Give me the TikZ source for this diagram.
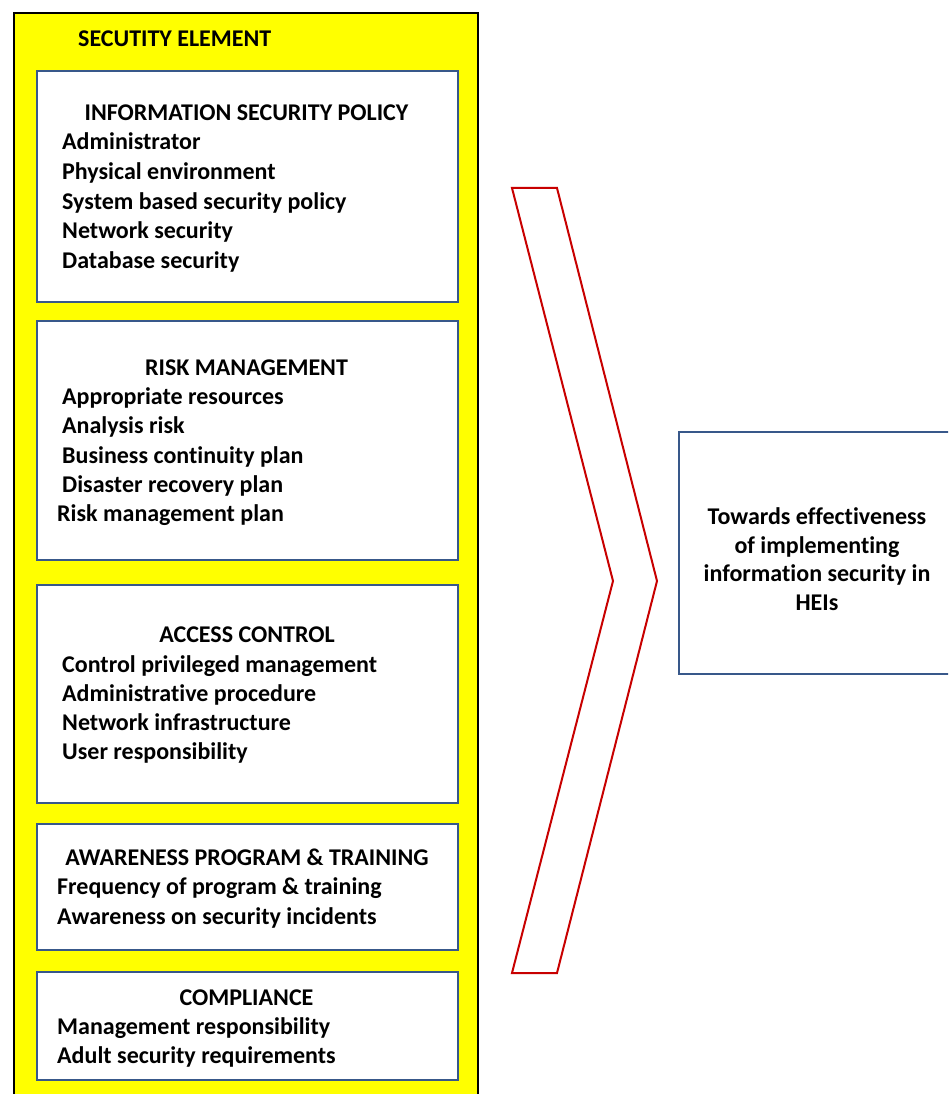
\documentclass[tikz,border=0pt]{standalone}
\usepackage{fontspec}
\setmainfont{Carlito}[Ligatures=NoCommon]
\definecolor{panelblue}{RGB}{56,88,138}
\definecolor{arrowred}{RGB}{200,0,0}
\definecolor{elemyellow}{RGB}{255,255,0}
\begin{document}
\begin{tikzpicture}[x=1pt,y=-1pt,
  font=\fontsize{24}{29}\selectfont\bfseries,
  panel/.style={draw=panelblue, line width=2pt, fill=white, anchor=north west, inner sep=0pt},
  head/.style={anchor=base, inner sep=0pt},
  item/.style={anchor=base west, inner sep=0pt},
  goaltext/.style={anchor=base, inner sep=0pt}]
\useasboundingbox (0,0) rectangle (948,1094);
\begin{scope}
\clip (0,0) rectangle (948,1094);

% outer yellow frame of the security elements
\draw[fill=elemyellow, line width=2pt] (14,13) rectangle (478,1120);
\node[item] (title) at (78,47) {SECUTITY ELEMENT};

% information security policy
\node[panel, minimum width=421pt, minimum height=231pt] (isp) at (36,70) {};
\node[head] (isp-h) at (246.5,121) {INFORMATION SECURITY POLICY};
\node[item] (isp-1) at (62,150) {Administrator};
\node[item] (isp-2) at (62,179.5) {Physical environment};
\node[item] (isp-3) at (62,209) {System based security policy};
\node[item] (isp-4) at (62,238.5) {Network security};
\node[item] (isp-5) at (62,268) {Database security};

% risk management
\node[panel, minimum width=421pt, minimum height=239pt] (risk) at (36,320) {};
\node[head] (risk-h) at (246.5,375) {RISK MANAGEMENT};
\node[item] (risk-1) at (62,404) {Appropriate resources};
\node[item] (risk-2) at (62,433.5) {Analysis risk};
\node[item] (risk-3) at (62,463) {Business continuity plan};
\node[item] (risk-4) at (62,492) {Disaster recovery plan};
\node[item] (risk-5) at (57,521.5) {Risk management plan};

% access control
\node[panel, minimum width=421pt, minimum height=218pt] (acc) at (36,584) {};
\node[head] (acc-h) at (247,642) {ACCESS CONTROL};
\node[item] (acc-1) at (62,672) {Control privileged management};
\node[item] (acc-2) at (62,701) {Administrative procedure};
\node[item] (acc-3) at (62,730.5) {Network infrastructure};
\node[item] (acc-4) at (62,759.5) {User responsibility};

% awareness program and training
\node[panel, minimum width=421pt, minimum height=126pt] (aware) at (36,823) {};
\node[head] (aware-h) at (247,865) {AWARENESS PROGRAM \& TRAINING};
\node[item] (aware-1) at (57,894.5) {Frequency of program \& training};
\node[item] (aware-2) at (57,924) {Awareness on security incidents};

% compliance
\node[panel, minimum width=421pt, minimum height=108pt] (comp) at (36,971) {};
\node[head] (comp-h) at (246.5,1005) {COMPLIANCE};
\node[item] (comp-1) at (57,1034) {Management responsibility};
\node[item] (comp-2) at (57,1063.5) {Adult security requirements};

% chevron pointing towards the outcome
\draw[arrowred, line width=2pt, line join=miter]
  (512,188) -- (557,188) -- (657,581) -- (557,973) -- (512,973) -- (613,581) -- cycle;

% outcome box
\node[panel, minimum width=290pt, minimum height=242pt] (goal) at (678,431) {};
\node[goaltext] (goal-1) at (817,524) {Towards effectiveness};
\node[goaltext] (goal-2) at (817,553) {of implementing};
\node[goaltext] (goal-3) at (817,581.5) {information security in};
\node[goaltext] (goal-4) at (817,610.5) {HEIs};
\end{scope}
\end{tikzpicture}
\end{document}
